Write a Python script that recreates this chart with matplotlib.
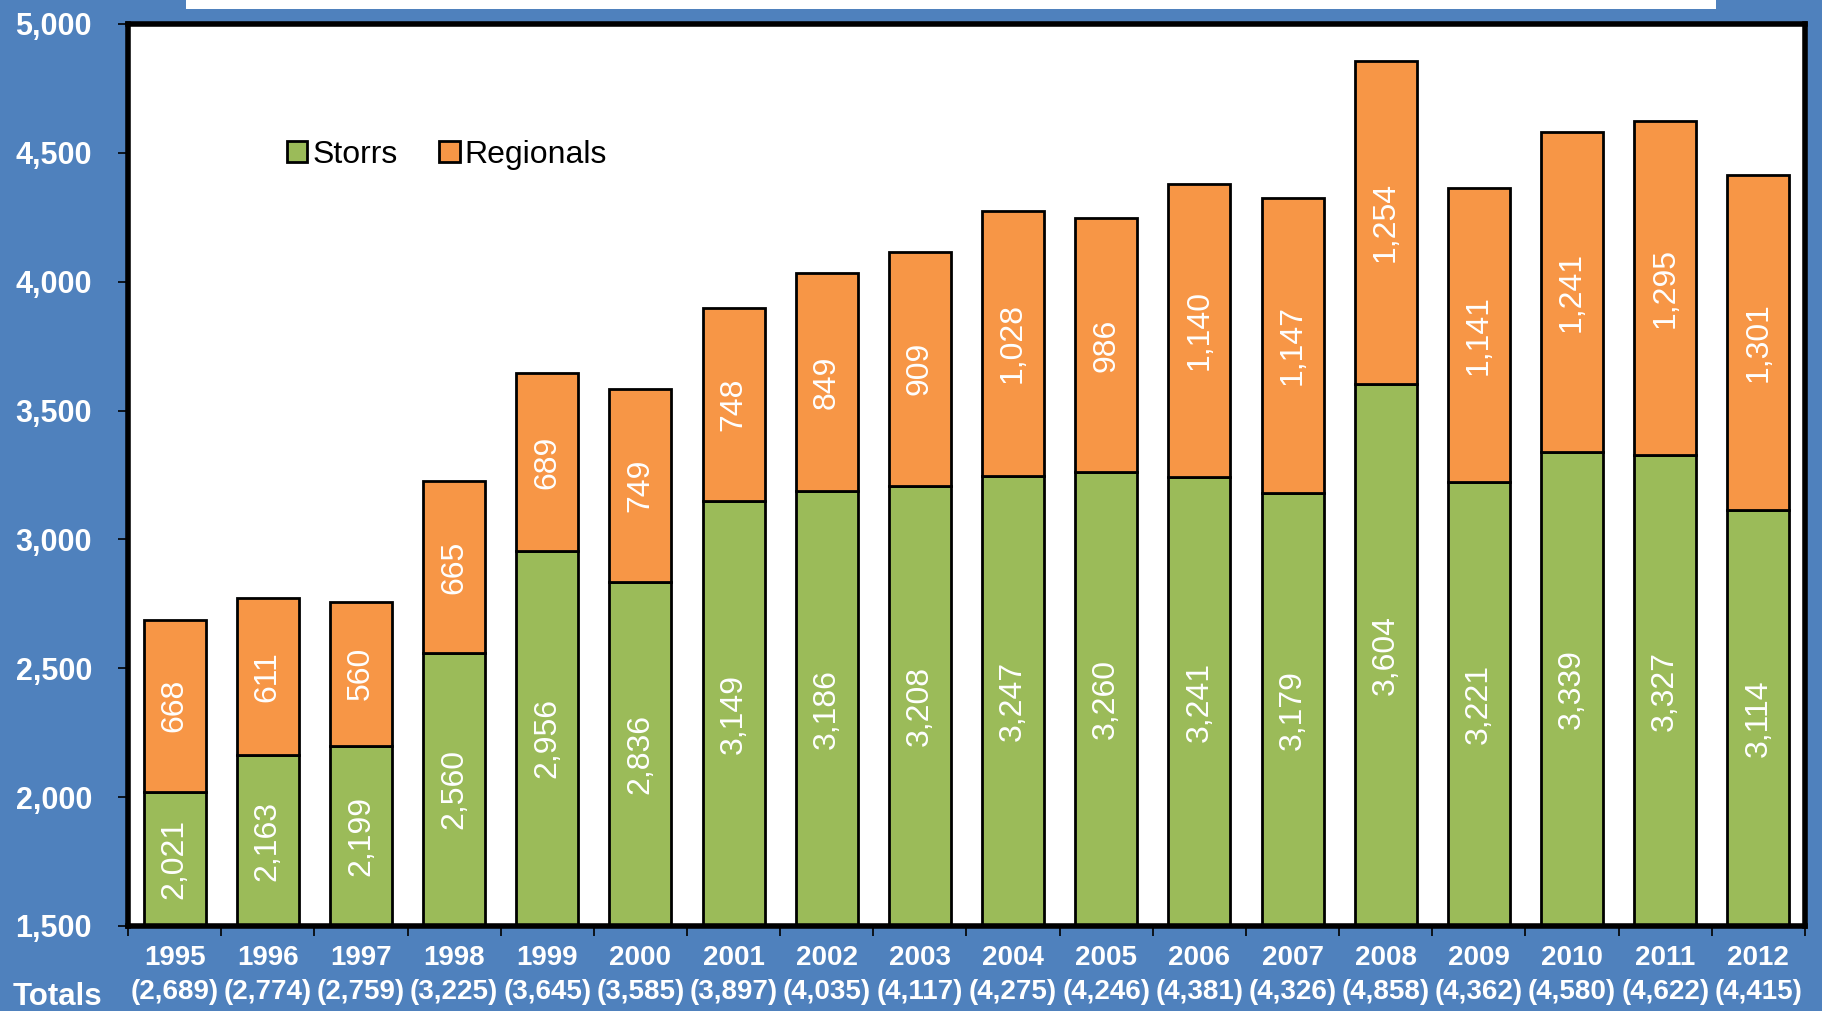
import matplotlib
matplotlib.use("Agg")
import matplotlib.pyplot as plt
from matplotlib.patches import Rectangle, Patch
import numpy as np

years = ["1995", "1996", "1997", "1998", "1999", "2000", "2001", "2002", "2003",
         "2004", "2005", "2006", "2007", "2008", "2009", "2010", "2011", "2012"]
storrs = [2021, 2163, 2199, 2560, 2956, 2836, 3149, 3186, 3208, 3247, 3260, 3241,
          3179, 3604, 3221, 3339, 3327, 3114]
regionals = [668, 611, 560, 665, 689, 749, 748, 849, 909, 1028, 986, 1140, 1147,
             1254, 1141, 1241, 1295, 1301]
totals = [2689, 2774, 2759, 3225, 3645, 3585, 3897, 4035, 4117, 4275, 4246, 4381,
          4326, 4858, 4362, 4580, 4622, 4415]
yticks = [1500, 2000, 2500, 3000, 3500, 4000, 4500, 5000]

BG = "#4F81BD"
GREEN = "#9BBB59"
ORANGE = "#F79646"
FONT = ["Liberation Sans", "DejaVu Sans"]
plt.rcParams["font.family"] = FONT

fig = plt.figure(figsize=(18.22, 10.11), dpi=100, facecolor=BG)
fig.patches.append(Rectangle((186 / 1822, 1 - 9 / 1011), (1716 - 186) / 1822, 9 / 1011 + 0.01,
                             transform=fig.transFigure, facecolor="white", edgecolor="none"))

ax = fig.add_axes([128 / 1822, 85 / 1011, (1805 - 128) / 1822, 902 / 1011])
ax.set_facecolor("white")
ymin = 1500
x = np.arange(len(years)) + 0.5
w = 0.665
ax.bar(x, np.array(storrs) - ymin, bottom=ymin, width=w, color=GREEN,
       edgecolor="black", linewidth=2, label="Storrs", zorder=2)
ax.bar(x, regionals, bottom=storrs, width=w, color=ORANGE,
       edgecolor="black", linewidth=2, label="Regionals", zorder=2)

for xi, s, r in zip(x, storrs, regionals):
    ax.text(xi, (ymin + s) / 2, f"{s:,}", rotation=90, ha="center", va="center",
            color="white", fontsize=23, zorder=3)
    ax.text(xi, s + r / 2, f"{r:,}", rotation=90, ha="center", va="center",
            color="white", fontsize=23, zorder=3)

ax.set_xlim(0, len(years))
ax.set_ylim(1500, 5000)
ax.set_yticks(yticks)
ax.set_yticklabels([f"{v:,}" for v in yticks], color="white", fontsize=22, fontweight="bold")
ax.set_xticks(np.arange(len(years) + 1))
ax.set_xticklabels([])
ax.tick_params(axis="x", length=7, width=1.2, color="black", direction="out")
ax.tick_params(axis="y", length=7, width=1.2, color="black", direction="out", pad=19)
for sp in ax.spines.values():
    sp.set_linewidth(4)
    sp.set_color("black")

for xi, yr, t in zip(x, years, totals):
    ax.annotate(yr, xy=(xi, 0), xycoords=("data", "axes fraction"), xytext=(0, -32),
                textcoords="offset pixels", ha="center", va="center",
                color="white", fontsize=20, fontweight="bold", annotation_clip=False)
    ax.annotate(f"({t:,})", xy=(xi, 0), xycoords=("data", "axes fraction"), xytext=(0, -66),
                textcoords="offset pixels", ha="center", va="center",
                color="white", fontsize=20, fontweight="bold", annotation_clip=False)
fig.text(57 / 1822, 1 - 997 / 1011, "Totals", ha="center", va="center",
         color="white", fontsize=22.5, fontweight="bold")

handles = [Patch(facecolor=GREEN, edgecolor="black", linewidth=2),
           Patch(facecolor=ORANGE, edgecolor="black", linewidth=2)]
ax.legend(handles, ["Storrs", "Regionals"], loc="center left",
          bbox_to_anchor=(0.085, 0.855), frameon=False, fontsize=23,
          handlelength=0.65, handleheight=0.65, handletextpad=0.15, columnspacing=1.3,
          ncol=2, borderpad=0)

fig.savefig("out.png", dpi=100, facecolor=BG)
